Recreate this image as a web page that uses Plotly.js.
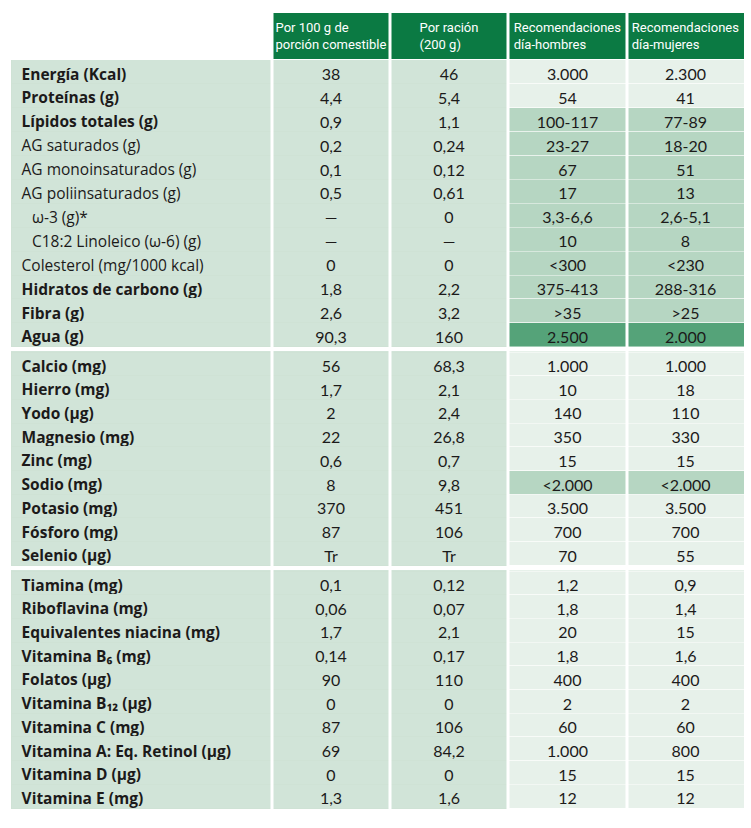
<!DOCTYPE html>
<html><head><meta charset="utf-8">
<script src="https://cdn.plot.ly/plotly-3.0.1.min.js"></script>
<style>html,body{margin:0;padding:0;background:#fff}</style>
</head><body><div id="chart" style="width:751px;height:828px"></div>
<script>
// ---- data ----
const headers = ["", "Por 100 g de<br>porción comestible", "Por ración<br>(200 g)", "Recomendaciones<br>día-hombres", "Recomendaciones<br>día-mujeres"];

const labels1 = ["Energía (Kcal)","Proteínas (g)","Lípidos totales (g)","AG saturados (g)","AG monoinsaturados (g)","AG poliinsaturados (g)","ω-3 (g)*","C18:2 Linoleico (ω-6) (g)","Colesterol (mg/1000 kcal)","Hidratos de carbono (g)","Fibra (g)","Agua (g)"];
const per100_1 = ["38","4,4","0,9","0,2","0,1","0,5","—","—","0","1,8","2,6","90,3"];
const racion_1 = ["46","5,4","1,1","0,24","0,12","0,61","0","—","0","2,2","3,2","160"];
const hombres_1 = ["3.000","54","100-117","23-27","67","17","3,3-6,6","10","<300","375-413",">35","2.500"];
const mujeres_1 = ["2.300","41","77-89","18-20","51","13","2,6-5,1","8","<230","288-316",">25","2.000"];

const labels2 = ["Calcio (mg)","Hierro (mg)","Yodo (µg)","Magnesio (mg)","Zinc (mg)","Sodio (mg)","Potasio (mg)","Fósforo (mg)","Selenio (µg)"];
const per100_2 = ["56","1,7","2","22","0,6","8","370","87","Tr"];
const racion_2 = ["68,3","2,1","2,4","26,8","0,7","9,8","451","106","Tr"];
const hombres_2 = ["1.000","10","140","350","15","<2.000","3.500","700","70"];
const mujeres_2 = ["1.000","18","110","330","15","<2.000","3.500","700","55"];

const labels3 = ["Tiamina (mg)","Riboflavina (mg)","Equivalentes niacina (mg)","Vitamina B₆ (mg)","Folatos (µg)","Vitamina B₁₂ (µg)","Vitamina C (mg)","Vitamina A: Eq. Retinol (µg)","Vitamina D (µg)","Vitamina E (mg)"];
const per100_3 = ["0,1","0,06","1,7","0,14","90","0","87","69","0","1,3"];
const racion_3 = ["0,12","0,07","2,1","0,17","110","0","106","84,2","0","1,6"];
const hombres_3 = ["1,2","1,8","20","1,8","400","2","60","1.000","15","12"];
const mujeres_3 = ["0,9","1,4","15","1,6","400","2","60","800","15","12"];

// row styling (kept separate from data)
const plainRows1 = [3,4,5,6,7,8];
const indentRows1 = [6,7];
const midRows1 = [2,3,4,5,6,7,8,9,10];
const darkRows1 = [11];
const midRows2 = [5];

// ---- styling ----
const W = 751, H = 828;
const C_LBL = '#d1e4d8', C_LIGHT = '#e7f1ea', C_MID = '#b6d6c2', C_DARK = '#55a379', C_HEAD = '#0b7a43';
const FONT_LBL = '"Open Sans", "Noto Sans", sans-serif';
const FONT_NUM = 'Lato, "Noto Sans", sans-serif';
const xL = 11, xR = 744;
const colW = [261, 118, 118, 119, 117];
const py = p => 1 - p / H;

function fmtLabels(arr, indent) {
  return arr.map((s, i) => '\u2009' + (indent.includes(i) ? '\u2002\u2009' : '') + s);
}
function recFill(n, mid, dark) {
  return Array.from({length: n}, (_, i) => dark.includes(i) ? C_DARK : (mid.includes(i) ? C_MID : C_LIGHT));
}
// split leading comparison sign into a prefix (so it is drawn literally)
const signOf = s => /^[<>]/.test(s) ? s[0] : '';
const bodyOf = s => /^[<>]/.test(s) ? s.slice(1) : s;

function section(labels, a, b, c, d, plain, indent, mid, dark, y0, y1, withHeader, rowH) {
  const n = labels.length;
  const rf = recFill(n, mid, dark);
  const weights = labels.map((_, i) => plain.includes(i) ? 'normal' : 'bold');
  return {
    type: 'table',
    domain: {x: [xL / W, xR / W], y: [py(y1), py(y0)]},
    columnwidth: colW,
    header: withHeader ? {
      values: headers,
      align: 'center',
      height: 41,
      fill: {color: ['#ffffff', C_HEAD, C_HEAD, C_HEAD, C_HEAD]},
      line: {color: '#ffffff', width: 1},
      font: {family: '"Liberation Sans Narrow", Roboto, sans-serif', size: 13, color: '#ffffff'}
    } : {
      values: ['', '', '', '', ''],
      height: 1,
      fill: {color: [C_LBL, C_LBL, C_LBL, C_LIGHT, C_LIGHT]},
      line: {color: [C_LBL, C_LBL, C_LBL, C_LIGHT, C_LIGHT], width: 0},
      font: {size: 1}
    },
    cells: {
      values: [fmtLabels(labels, indent), a, b, c.map(bodyOf), d.map(bodyOf)],
      prefix: ['', '', '', c.map(signOf), d.map(signOf)],
      align: ['left', 'center', 'center', 'center', 'center'],
      height: rowH,
      fill: {color: [Array(n).fill(C_LBL), Array(n).fill(C_LBL), Array(n).fill(C_LBL), rf, rf]},
      line: {color: ['#cfe2d5', '#cfe2d5', '#cfe2d5', 'rgba(255,255,255,0.45)', 'rgba(255,255,255,0.45)'], width: 1},
      font: {
        family: [FONT_LBL, FONT_NUM, FONT_NUM, FONT_NUM, FONT_NUM],
        size: [15.5, 16, 16, 16, 16],
        color: '#1c1a1a',
        weight: [weights, 'normal', 'normal', 'normal', 'normal']
      }
    }
  };
}

const data = [
  section(labels1, per100_1, racion_1, hombres_1, mujeres_1, plainRows1, indentRows1, midRows1, darkRows1, 12, 352, true, 23.9),
  section(labels2, per100_2, racion_2, hombres_2, mujeres_2, [], [], midRows2, [], 351, 572, false, 23.7),
  section(labels3, per100_3, racion_3, hombres_3, mujeres_3, [], [], [], [], 570, 818, false, 23.7)
];

const bounds = [xL, xL + colW[0], xL + colW[0] + colW[1], xL + colW[0] + colW[1] + colW[2], xL + colW[0] + colW[1] + colW[2] + colW[3]];
const shapes = bounds.slice(1).map(x => ({
  type: 'line', xref: 'paper', yref: 'paper', layer: 'above',
  x0: x / W, x1: x / W, y0: py(12), y1: py(814),
  line: {color: '#ffffff', width: 3}
}));

const layout = {
  width: W, height: H,
  margin: {l: 0, r: 0, t: 0, b: 0},
  paper_bgcolor: '#ffffff',
  shapes: shapes,
  showlegend: false
};
Plotly.newPlot('chart', data, layout, {displayModeBar: false, staticPlot: true});
</script>
</body></html>
